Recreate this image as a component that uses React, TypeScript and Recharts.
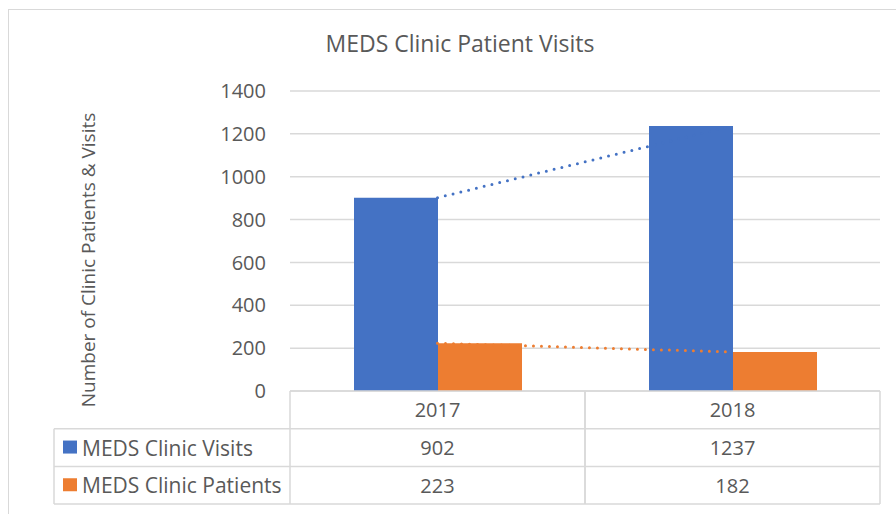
import { Bar, CartesianGrid, ComposedChart, Label, Line, XAxis, YAxis } from "recharts";

const years = ["2017", "2018"];
const visits = [902, 1237];
const patients = [223, 182];
const yTicks = [0, 200, 400, 600, 800, 1000, 1200, 1400];

const seriesNames = ["MEDS Clinic Visits", "MEDS Clinic Patients"];
const BLUE = "#4472C4";
const ORANGE = "#ED7D31";
const GRID = "#d9d9d9";
const TEXT = "#595959";
const FONT = "'Open Sans', sans-serif";

const data = years.map((year, i) => ({
  year,
  visits: visits[i],
  patients: patients[i],
}));

// plot area geometry
const CHART_W = 896;
const CHART_H = 514;
const PLOT_LEFT = 290;
const PLOT_RIGHT = 880;
const PLOT_TOP = 91;
const PLOT_BOTTOM = 391;
const ROW_H = 37.7;
const TABLE_LEFT = 54;

function TableTick(props: any) {
  const { x, payload, index } = props;
  const bw = (PLOT_RIGHT - PLOT_LEFT) / years.length;
  const x0 = x - bw / 2;
  const x1 = x + bw / 2;
  const y0 = PLOT_BOTTOM;
  const rows = [years[index], String(visits[index]), String(patients[index])];
  const colors = [BLUE, ORANGE];

  return (
    <g>
      <line x1={x0} y1={y0} x2={x0} y2={y0 + ROW_H * 3} stroke={GRID} strokeWidth={1.5} />
      <line x1={x1} y1={y0} x2={x1} y2={y0 + ROW_H * 3} stroke={GRID} strokeWidth={1.5} />
      {[1, 2, 3].map((r) => (
        <line key={r} x1={x0} y1={y0 + ROW_H * r} x2={x1} y2={y0 + ROW_H * r} stroke={GRID} strokeWidth={1.5} />
      ))}
      {rows.map((t, r) => (
        <text
          key={r}
          x={x}
          y={y0 + ROW_H * r + ROW_H / 2}
          textAnchor="middle"
          dominantBaseline="central"
          fill={TEXT}
          fontSize={20}
          fontFamily={FONT}
        >
          {r === 0 ? payload.value : t}
        </text>
      ))}
      {index === 0 && (
        <g>
          <line x1={TABLE_LEFT} y1={y0 + ROW_H} x2={TABLE_LEFT} y2={y0 + ROW_H * 3} stroke={GRID} strokeWidth={1.5} />
          {[1, 2, 3].map((r) => (
            <line key={r} x1={TABLE_LEFT} y1={y0 + ROW_H * r} x2={x0} y2={y0 + ROW_H * r} stroke={GRID} strokeWidth={1.5} />
          ))}
          {seriesNames.map((name, r) => {
            const cy = y0 + ROW_H * (r + 1) + ROW_H / 2;
            return (
              <g key={name}>
                <rect x={TABLE_LEFT + 9} y={cy - 7} width={14} height={13} fill={colors[r]} />
                <text x={TABLE_LEFT + 28} y={cy} dominantBaseline="central" fill={TEXT} fontSize={21} fontFamily={FONT}>
                  {name}
                </text>
              </g>
            );
          })}
        </g>
      )}
    </g>
  );
}

function YTitle(props: any) {
  const vb = props.viewBox;
  const cx = vb.x + 88;
  const cy = vb.y + vb.height / 2 + 19;
  return (
    <text
      x={cx}
      y={cy}
      transform={`rotate(-90, ${cx}, ${cy})`}
      textAnchor="middle"
      dominantBaseline="central"
      fill={TEXT}
      fontSize={19}
      fontFamily={FONT}
    >
      Number of Clinic Patients &amp; Visits
    </text>
  );
}

export default function App() {
  return (
    <div
      style={{
        position: "absolute",
        left: 0,
        top: 0,
        width: CHART_W,
        height: CHART_H,
        overflow: "hidden",
        background: "#fff",
        fontFamily: FONT,
      }}
    >
      <div
        style={{
          position: "absolute",
          left: 8,
          top: 9,
          width: 920,
          height: 540,
          border: `1.5px solid ${GRID}`,
        }}
      />
      <div
        style={{
          position: "absolute",
          left: 0,
          top: 27,
          width: 920,
          textAlign: "center",
          fontSize: 23,
          color: TEXT,
        }}
      >
        MEDS Clinic Patient Visits
      </div>
      <div style={{ position: "absolute", left: 0, top: 0 }}>
        <ComposedChart
          width={CHART_W}
          height={CHART_H}
          data={data}
          margin={{ top: PLOT_TOP, right: CHART_W - PLOT_RIGHT, left: 0, bottom: 9 }}
          barGap={0}
        >
          <CartesianGrid horizontal vertical={false} stroke={GRID} strokeWidth={1.5} />
          <XAxis
            dataKey="year"
            height={CHART_H - PLOT_BOTTOM - 9}
            axisLine={{ stroke: GRID, strokeWidth: 1.5 }}
            tickLine={false}
            tickSize={0}
            tick={<TableTick />}
            interval={0}
          />
          <YAxis
            width={PLOT_LEFT}
            domain={[0, 1400]}
            ticks={yTicks}
            axisLine={false}
            tickLine={false}
            tickSize={0}
            tickMargin={24}
            tick={{ fill: TEXT, fontSize: 20, fontFamily: FONT }}
          >
            <Label content={<YTitle />} />
          </YAxis>
          <Bar dataKey="visits" name={seriesNames[0]} fill={BLUE} barSize={84} isAnimationActive={false} />
          <Bar dataKey="patients" name={seriesNames[1]} fill={ORANGE} barSize={84} isAnimationActive={false} />
          <Line
            dataKey="visits"
            type="linear"
            stroke={BLUE}
            strokeWidth={3}
            strokeDasharray="0 8"
            strokeLinecap="round"
            dot={false}
            activeDot={false}
            legendType="none"
            isAnimationActive={false}
          />
          <Line
            dataKey="patients"
            type="linear"
            stroke={ORANGE}
            strokeWidth={3}
            strokeDasharray="0 8"
            strokeLinecap="round"
            dot={false}
            activeDot={false}
            legendType="none"
            isAnimationActive={false}
          />
        </ComposedChart>
      </div>
    </div>
  );
}
